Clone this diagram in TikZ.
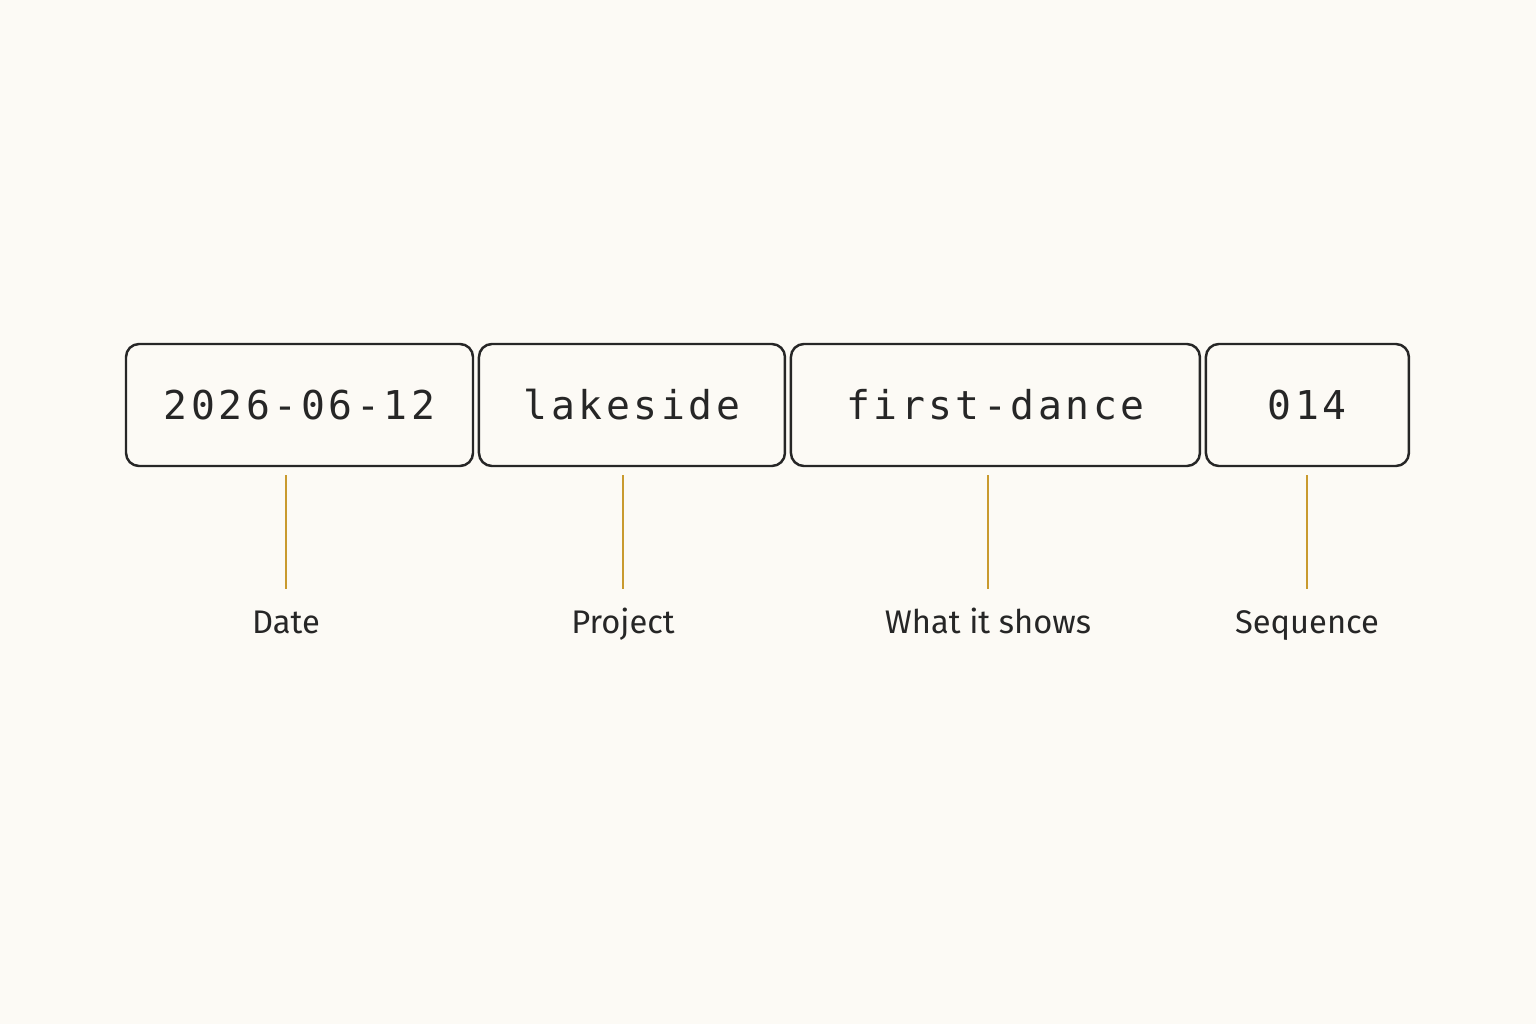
\documentclass[tikz,border=0pt]{standalone}
\usepackage{fontspec}
\usepackage{xcolor}
\usetikzlibrary{positioning}
\setmainfont{Fira Sans}
\newfontfamily\codefont[LetterSpace=9]{DejaVu Sans Mono}
\definecolor{paper}{HTML}{FCFAF5}
\definecolor{ink}{HTML}{262626}
\definecolor{gold}{HTML}{C99A2E}

\begin{document}
\begin{tikzpicture}[node distance=0.035cm,
    part/.style={rectangle, draw=ink, line width=0.7pt, rounded corners=0.13cm, minimum height=1.22cm, text=ink, font=\codefont\fontsize{11.3}{13}\selectfont},
    caption/.style={anchor=base, inner sep=0pt, text height=0.75em, text depth=0.2em, text=ink, font=\fontsize{9.3}{11}\selectfont},
    tick/.style={draw=gold, line width=0.6pt, shorten <=0.17cm, shorten >=0.08cm}]
    \fill[paper] (0,0) rectangle (15.36,10.24);

    % filename parts
    \node[part, minimum width=3.47cm] (date) at (2.995,6.19) {2026-06-12};
    \node[part, minimum width=3.06cm, right=of date] (project) {lakeside};
    \node[part, minimum width=4.09cm, right=of project] (shows) {first-dance};
    \node[part, minimum width=2.03cm, right=of shows] (seq) {014};

    % captions
    \node[caption] (datelbl) at (2.86,3.91) {Date};
    \node[caption] (projectlbl) at (6.23,3.91) {Project};
    \node[caption] (showslbl) at (9.88,3.91) {What it shows};
    \node[caption] (seqlbl) at (13.07,3.91) {Sequence};

    \draw[tick] (datelbl.north) -- (datelbl.north |- date.south);
    \draw[tick] (projectlbl.north) -- (projectlbl.north |- project.south);
    \draw[tick] (showslbl.north) -- (showslbl.north |- shows.south);
    \draw[tick] (seqlbl.north) -- (seqlbl.north |- seq.south);
\end{tikzpicture}
\end{document}
